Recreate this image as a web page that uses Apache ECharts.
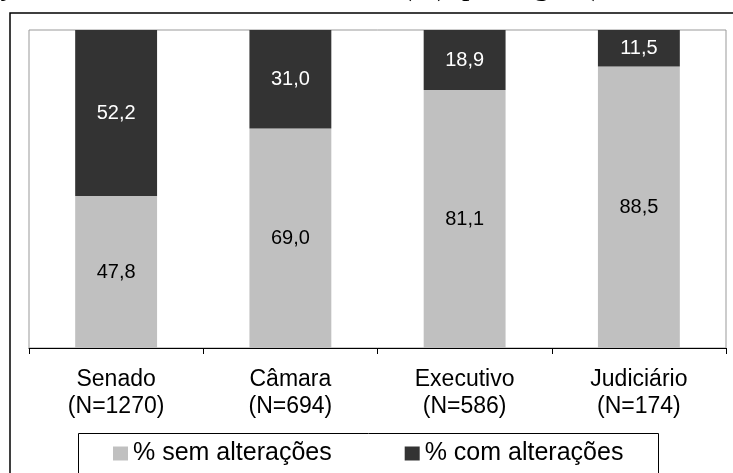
<!DOCTYPE html>
<html>
<head>
<meta charset="utf-8">
<script src="https://cdn.jsdelivr.net/npm/echarts@6/dist/echarts.min.js"></script>
<style>
  html, body { margin: 0; padding: 0; background: #fff; }
  #chart { width: 733px; height: 473px; }
</style>
</head>
<body>
<div id="chart"></div>
<script>
// dados por órgão
const categories = ['Senado\n(N=1270)', 'Câmara\n(N=694)', 'Executivo\n(N=586)', 'Judiciário\n(N=174)'];
const semAlteracoes = [47.8, 69.0, 81.1, 88.5];
const comAlteracoes = [52.2, 31.0, 18.9, 11.5];
const seriesNames = ['% sem alterações', '% com alterações'];
const colors = ['#c0c0c0', '#333333'];

const fmt = p => p.value.toFixed(1).replace('.', ',');

var myChart = echarts.init(document.getElementById('chart'));
myChart.setOption({
  animation: false,
  color: colors,
  graphic: [
    // moldura externa
    { type: 'rect', shape: { x: 10, y: 13, width: 800, height: 500 },
      style: { fill: 'none', stroke: '#000', lineWidth: 1.5 }, z: 0 },
    // caixa da legenda
    { type: 'rect', shape: { x: 78.5, y: 433.5, width: 580, height: 45 },
      style: { fill: '#fff', stroke: '#000', lineWidth: 1 }, z: 1 },
    // linha do título cortada no topo
    { type: 'text', left: 2, top: -28,
      style: { text: 'j', font: '30px "Liberation Serif"', fill: '#000' } },
    { type: 'text', left: 402, top: -28,
      style: { text: '(%), por órgão (', font: '30px "Liberation Serif"', fill: '#000' } }
  ],
  grid: {
    left: 29, top: 30, right: 7, bottom: 125,
    show: true, borderColor: '#999', borderWidth: 1
  },
  legend: {
    left: 113, top: 441, padding: 0, z: 5,
    icon: 'rect', itemWidth: 15, itemHeight: 14, itemGap: 73,
    textStyle: { fontFamily: 'Liberation Sans', fontSize: 25, color: '#000' },
    data: seriesNames
  },
  xAxis: {
    type: 'category',
    data: categories,
    axisLine: { lineStyle: { color: '#000', width: 1 } },
    axisTick: { show: true, length: 6, lineStyle: { color: '#000' } },
    axisLabel: {
      color: '#000', fontFamily: 'Liberation Sans', fontSize: 23,
      lineHeight: 27, margin: 18
    }
  },
  yAxis: {
    type: 'value', min: 0, max: 100, show: false,
    splitLine: { show: false }
  },
  series: [
    {
      name: seriesNames[0], type: 'bar', stack: 'total', barWidth: '47%',
      data: semAlteracoes,
      label: { show: true, position: 'inside', formatter: fmt, color: '#000',
        fontFamily: 'Liberation Sans', fontSize: 20 }
    },
    {
      name: seriesNames[1], type: 'bar', stack: 'total', barWidth: '47%',
      data: comAlteracoes,
      label: { show: true, position: 'inside', formatter: fmt, color: '#fff',
        fontFamily: 'Liberation Sans', fontSize: 20 }
    }
  ]
});
</script>
</body>
</html>
